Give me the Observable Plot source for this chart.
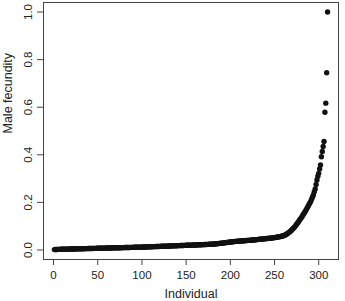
<!DOCTYPE html>
<html><head><meta charset="utf-8">
<script src="https://cdn.jsdelivr.net/npm/d3@7"></script>
<script src="https://cdn.jsdelivr.net/npm/@observablehq/plot@0.6"></script>
<style>body{margin:0;background:#fff}</style>
</head><body><div id="chart"></div>
<script>
const fecundity = [
0.0015,0.0018,0.0020,0.0022,0.0024,0.0025,0.0027,0.0028,0.0030,0.0031,
0.0032,0.0033,0.0034,0.0035,0.0036,0.0037,0.0038,0.0039,0.0040,0.0041,
0.0042,0.0043,0.0044,0.0045,0.0046,0.0047,0.0048,0.0049,0.0050,0.0051,
0.0052,0.0053,0.0054,0.0055,0.0056,0.0057,0.0058,0.0059,0.0060,0.0061,
0.0062,0.0063,0.0064,0.0065,0.0066,0.0067,0.0068,0.0069,0.0070,0.0071,
0.0072,0.0073,0.0074,0.0075,0.0076,0.0077,0.0078,0.0079,0.0080,0.0081,
0.0082,0.0083,0.0084,0.0085,0.0086,0.0087,0.0088,0.0089,0.0090,0.0091,
0.0092,0.0093,0.0094,0.0095,0.0096,0.0097,0.0098,0.0099,0.0100,0.0101,
0.0102,0.0103,0.0104,0.0105,0.0106,0.0107,0.0108,0.0109,0.0110,0.0111,
0.0112,0.0113,0.0114,0.0115,0.0116,0.0117,0.0118,0.0119,0.0120,0.0121,
0.0122,0.0124,0.0125,0.0127,0.0128,0.0130,0.0131,0.0133,0.0134,0.0136,
0.0137,0.0139,0.0140,0.0142,0.0143,0.0145,0.0146,0.0148,0.0149,0.0151,
0.0152,0.0154,0.0155,0.0157,0.0158,0.0160,0.0161,0.0163,0.0164,0.0166,
0.0167,0.0169,0.0170,0.0172,0.0173,0.0175,0.0176,0.0178,0.0179,0.0181,
0.0182,0.0184,0.0185,0.0187,0.0188,0.0190,0.0191,0.0193,0.0194,0.0196,
0.0197,0.0199,0.0200,0.0202,0.0203,0.0205,0.0206,0.0208,0.0209,0.0211,
0.0212,0.0214,0.0215,0.0217,0.0218,0.0220,0.0221,0.0223,0.0224,0.0226,
0.0228,0.0230,0.0232,0.0234,0.0236,0.0238,0.0240,0.0242,0.0245,0.0248,
0.0251,0.0254,0.0257,0.0260,0.0264,0.0268,0.0272,0.0276,0.0280,0.0285,
0.0290,0.0295,0.0300,0.0305,0.0310,0.0315,0.0320,0.0325,0.0330,0.0335,
0.0340,0.0344,0.0348,0.0352,0.0356,0.0360,0.0363,0.0366,0.0369,0.0372,
0.0375,0.0378,0.0381,0.0384,0.0387,0.0390,0.0393,0.0396,0.0399,0.0402,
0.0405,0.0408,0.0411,0.0414,0.0417,0.0420,0.0424,0.0428,0.0432,0.0436,
0.0440,0.0444,0.0448,0.0452,0.0456,0.0460,0.0464,0.0468,0.0472,0.0476,
0.0480,0.0484,0.0488,0.0492,0.0496,0.0500,0.0505,0.0510,0.0515,0.0520,
0.0526,0.0532,0.0538,0.0545,0.0552,0.0560,0.0568,0.0577,0.0587,0.0598,
0.061,0.063,0.065,0.067,0.070,0.073,0.076,0.079,0.082,0.086,
0.090,0.094,0.098,0.103,0.108,0.113,0.118,0.124,0.129,0.134,
0.140,0.146,0.152,0.158,0.164,0.170,0.177,0.184,0.191,0.198,
0.205,0.214,0.223,0.232,0.245,0.256,0.275,0.294,0.310,0.322,
0.340,0.357,0.392,0.414,0.435,0.456,0.579,0.617,0.745,1.000
];
const individual = fecundity.map((_, i) => i + 1);
const xTicks = [0, 50, 100, 150, 200, 250, 300];
const yTicks = [0, 0.2, 0.4, 0.6, 0.8, 1.0];
const xTitle = "Individual";
const yTitle = "Male fecundity";
const data = fecundity.map((v, i) => ({individual: individual[i], fecundity: v}));

const chart = Plot.plot({
  width: 345, height: 301,
  marginLeft: 43, marginRight: 7, marginTop: 2, marginBottom: 42,
  style: {fontFamily: "'Liberation Sans', Arial, sans-serif", fontSize: "11.5px", color: "#222", background: "#fff"},
  x: {domain: [-11.36, 322.36]},
  y: {domain: [-0.04, 1.04]},
  marks: [
    Plot.frame({stroke: "#444"}),
    Plot.axisX({ticks: xTicks, tickSize: 6, tickPadding: 5, label: null, stroke: "#444"}),
    Plot.axisY({ticks: yTicks, tickSize: 6, tickFormat: () => "", label: null, stroke: "#444"}),
    Plot.text(yTicks, {y: d => d, text: d => d.toFixed(1), frameAnchor: "left", dx: -15.5, rotate: -90, textAnchor: "middle", lineAnchor: "middle", fill: "#222"}),
    Plot.text([xTitle], {frameAnchor: "bottom", dy: 34, fontSize: 12.5, lineAnchor: "middle", fill: "#222"}),
    Plot.text([yTitle], {frameAnchor: "left", dx: -35.5, dy: 2.5, rotate: -90, fontSize: 12.5, lineAnchor: "middle", fill: "#222"}),
    Plot.dot(data, {x: "individual", y: "fecundity", r: 2.7, fill: "#111", stroke: "none"})
  ]
});
document.getElementById("chart").appendChild(chart);
</script>
</body></html>
